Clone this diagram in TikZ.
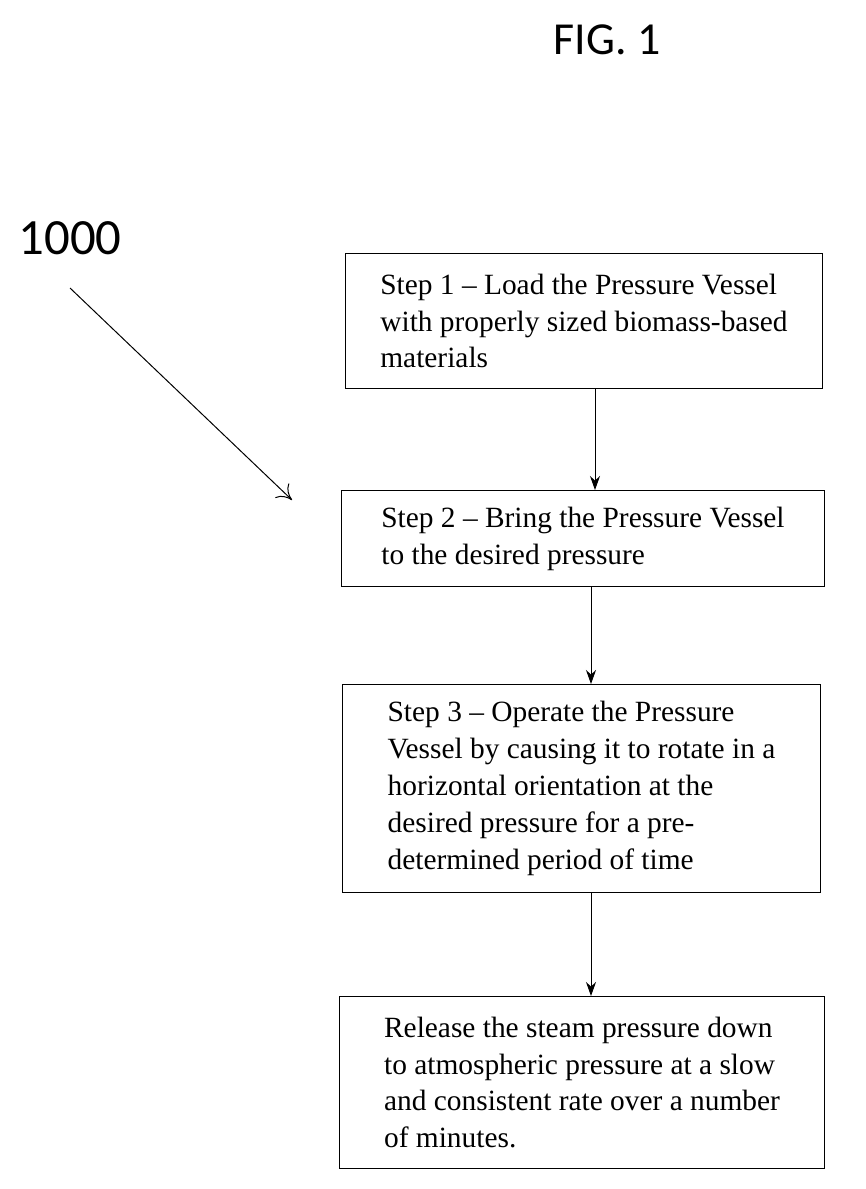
\documentclass[tikz,border=0pt]{standalone}
\usepackage{fontspec}
\setmainfont{Liberation Serif}
\newfontfamily\calib{Carlito}
\usetikzlibrary{arrows.meta}
\tikzset{%
    stp/.style={draw, line width=1pt, align=left, inner xsep=19bp, anchor=north west,
        font=\fontsize{29.5}{37}\selectfont},
    cona/.style={line width=1pt, -{Stealth[length=14bp,width=10bp]}},
    poi/.style={line width=1pt, -{To[length=14bp,width=20bp]}},
}
\begin{document}
\begin{tikzpicture}[x=1bp, y=-1bp]
    \useasboundingbox (0,0) rectangle (866,1189);
    \node [font=\calib\fontsize{46}{46}\selectfont] (fig) at (607,40) {FIG. 1};
    \node [font=\calib\fontsize{51}{51}\selectfont] (num) at (70,238) {1000};
    \node [stp, minimum width=477bp, minimum height=135bp] (s1) at (345,253)
        {Step 1 -- Load the Pressure Vessel\\with properly sized biomass-based\\materials};
    \node [stp, minimum width=483bp, minimum height=96bp] (s2) at (341,490)
        {Step 2 -- Bring the Pressure Vessel\\to the desired pressure};
    \node [stp, minimum width=478bp, minimum height=208bp] (s3) at (342,684)
        {Step 3 -- Operate the Pressure\\Vessel by causing it to rotate in a\\horizontal orientation at the\\desired pressure for a pre-\\determined period of time};
    \node [stp, minimum width=485bp, minimum height=172bp] (s4) at (339,996)
        {Release the steam pressure down\\to atmospheric pressure at a slow\\and consistent rate over a number\\of minutes.};
    \coordinate (p1) at (70,288);
    \coordinate (p2) at (292,500);
    \draw [poi] (p1) -- (p2);
    \draw [cona] (s1.south -| 595,0) -- (s2.north -| 595,0);
    \draw [cona] (s2.south -| 591,0) -- (s3.north -| 591,0);
    \draw [cona] (s3.south -| 591,0) -- (s4.north -| 591,0);
\end{tikzpicture}
\end{document}
